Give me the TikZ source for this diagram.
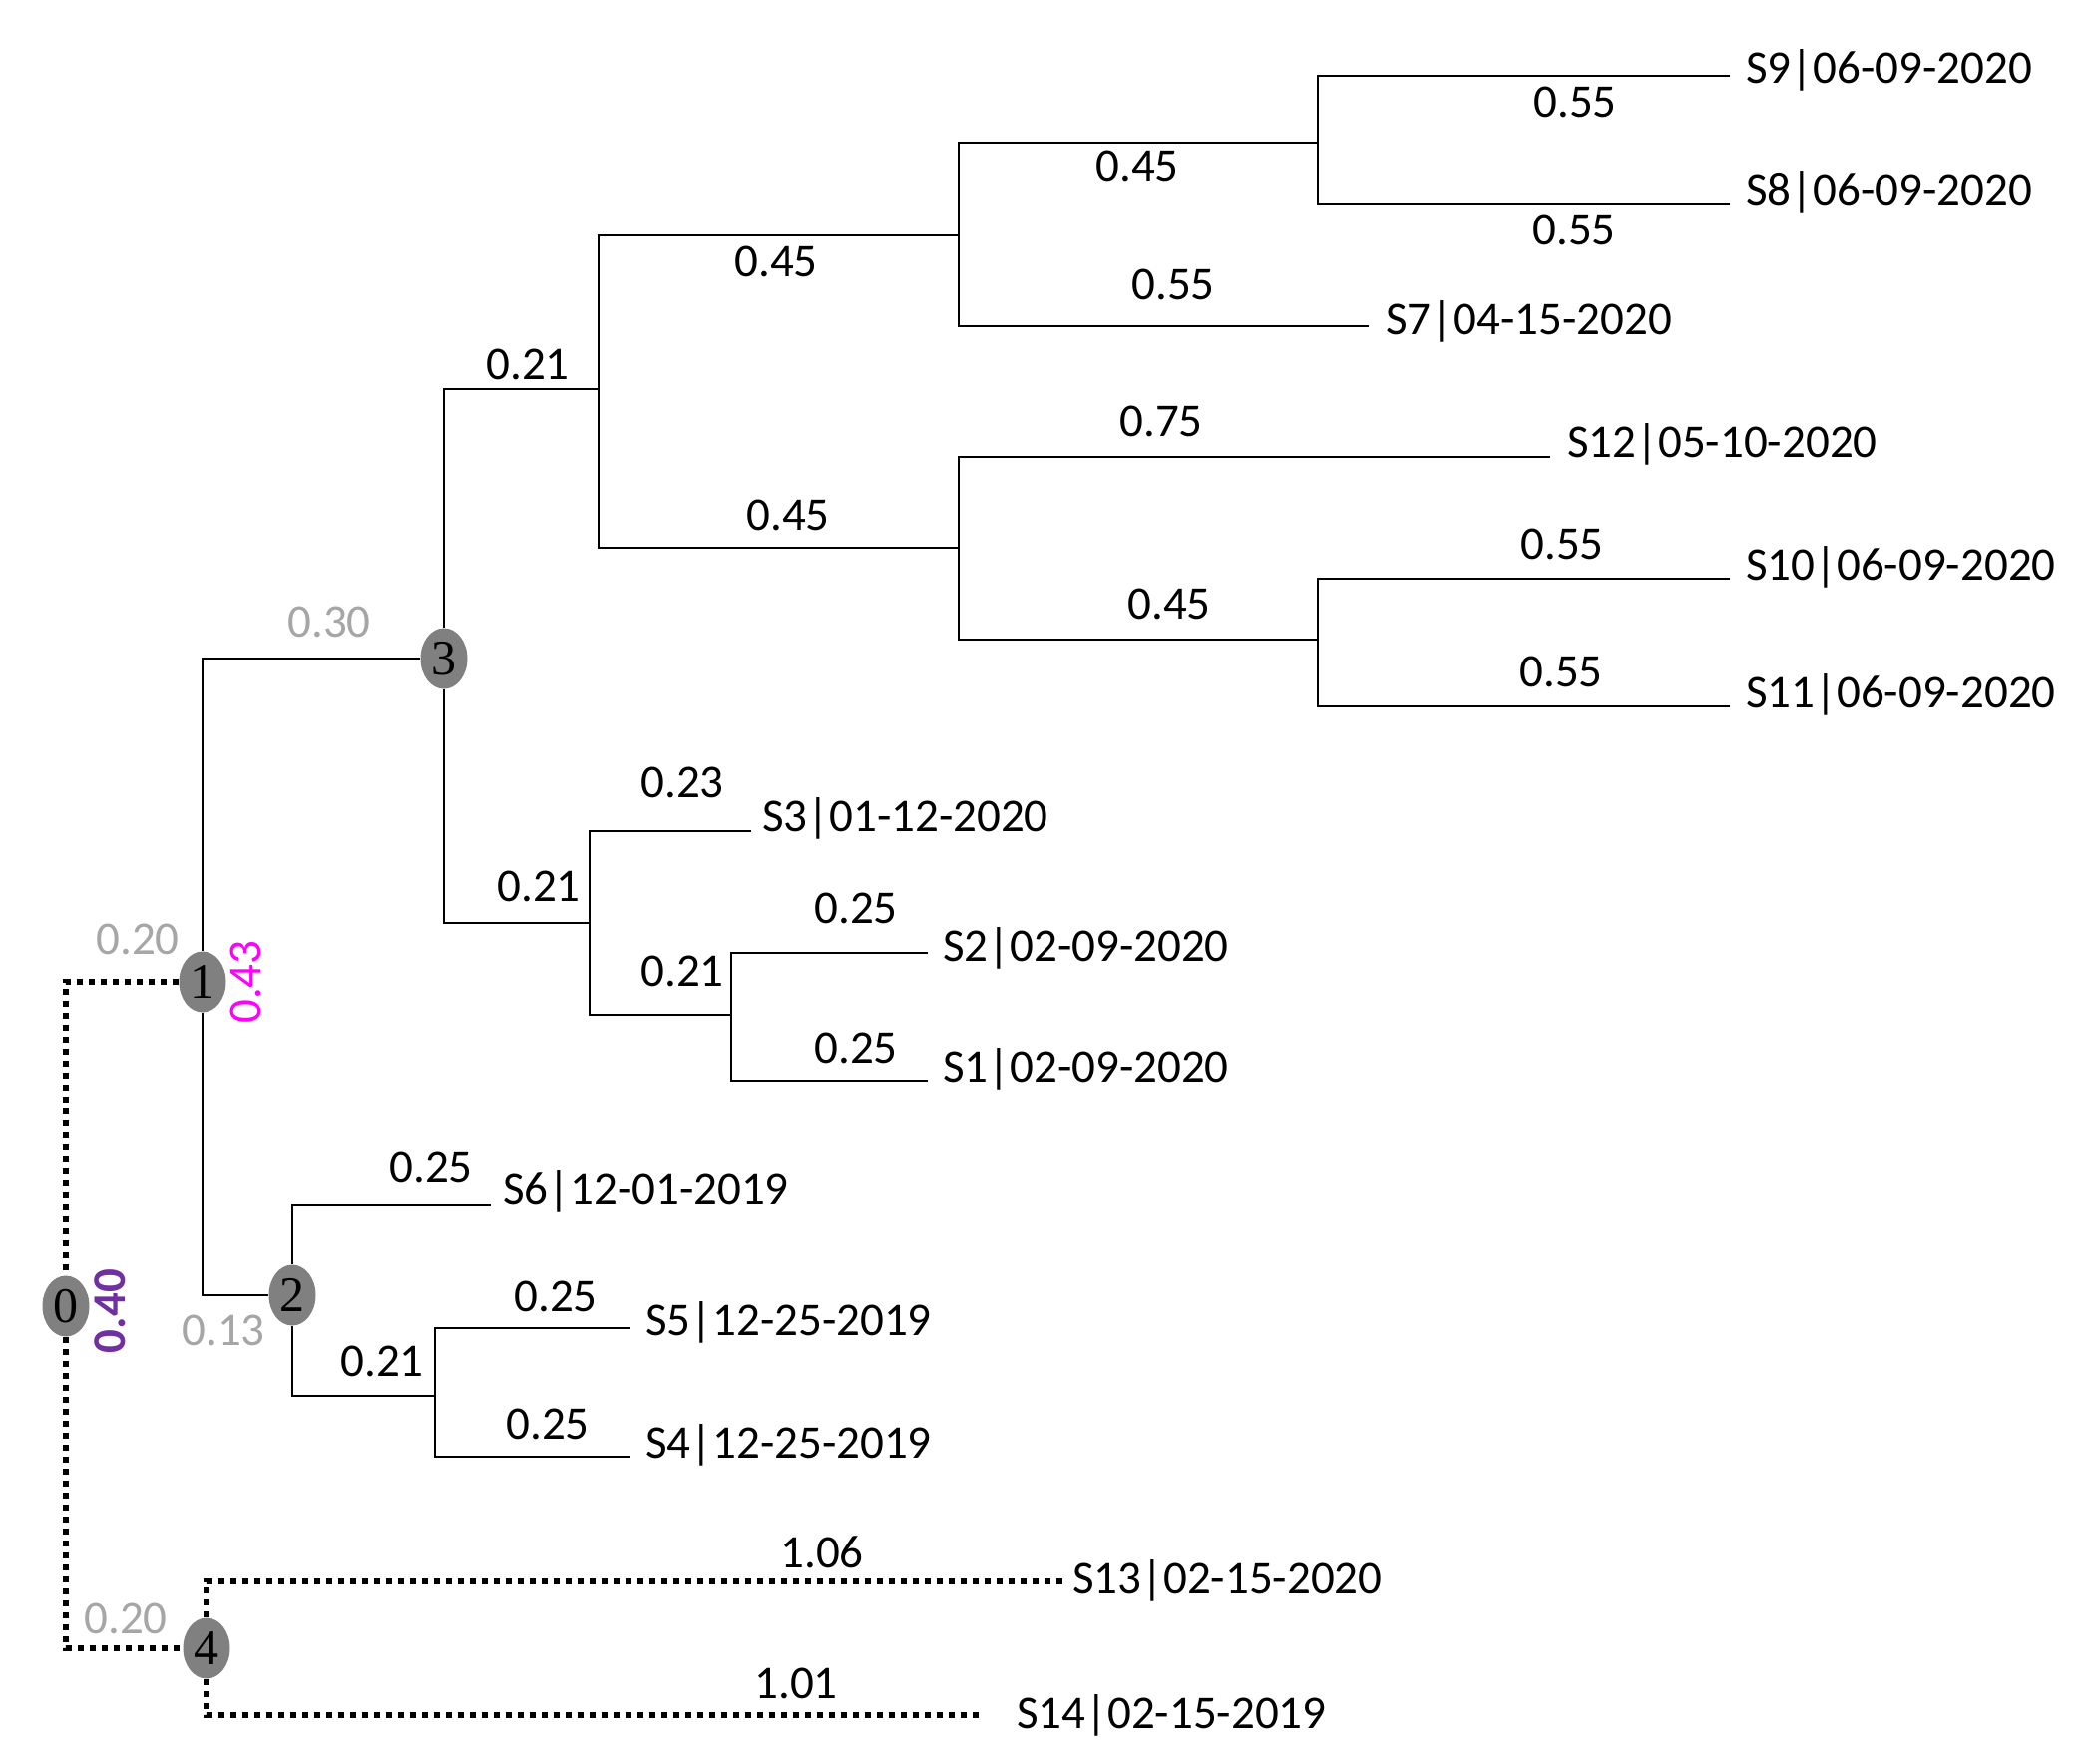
\documentclass[tikz,border=0pt]{standalone}
\usepackage{fontspec}
\setmainfont{Carlito}
\newfontfamily\numfont{Liberation Serif}
\usetikzlibrary{shapes.geometric}
\definecolor{nodegray}{RGB}{128,128,128}
\definecolor{lgray}{RGB}{166,166,166}
\definecolor{mag}{RGB}{255,0,255}
\definecolor{purp}{RGB}{112,48,160}
\begin{document}
\begin{tikzpicture}[x=0.5pt,y=-0.5pt,
  br/.style={line width=0.65pt,black},
  dotline/.style={line width=3.2pt,dash pattern=on 3pt off 3pt,black},
  inode/.style={ellipse,fill=nodegray,minimum width=23.5pt,minimum height=30.5pt,inner sep=0pt,font=\numfont\fontsize{25}{25}\selectfont},
  leaf/.style={anchor=base west,inner sep=0pt,font=\fontsize{23.5}{28}\selectfont},
  bl/.style={inner sep=0pt,font=\fontsize{23.5}{28}\selectfont},
  gl/.style={bl,text=lgray}]
\useasboundingbox (0,0) rectangle (2095,1768);
% internal nodes
\node[inode] (n0) at (66,1309) {0};
\node[inode] (n1) at (203,984) {1};
\node[inode] (n2) at (293,1298) {2};
\node[inode] (n3) at (445,660) {3};
\node[inode] (n4) at (207,1652) {4};
% branch points
\coordinate (a) at (600,390);
\coordinate (b) at (961,236);
\coordinate (c) at (1321,143);
\coordinate (d) at (961,549);
\coordinate (e) at (1321,641);
\coordinate (f) at (591,925);
\coordinate (g) at (733,1017);
\coordinate (h) at (436,1399);
% leaf ends
\coordinate (e9) at (1734,76);
\coordinate (e8) at (1734,204);
\coordinate (e7) at (1372,327);
\coordinate (e12) at (1554,458);
\coordinate (e10) at (1734,580);
\coordinate (e11) at (1734,708);
\coordinate (e3) at (753,833);
\coordinate (e2) at (930,955);
\coordinate (e1) at (930,1083);
\coordinate (e6) at (492,1208);
\coordinate (e5) at (632,1331);
\coordinate (e4) at (632,1460);
\coordinate (e13) at (1069,1585);
\coordinate (e14) at (982,1719);
% leaf labels
\node[leaf] (s9) at (1750,83) {S9|06-09-2020};
\node[leaf] (s8) at (1750,205) {S8|06-09-2020};
\node[leaf] (s7) at (1389,335) {S7|04-15-2020};
\node[leaf] (s12) at (1571,458) {S12|05-10-2020};
\node[leaf] (s10) at (1750,581) {S10|06-09-2020};
\node[leaf] (s11) at (1750,709) {S11|06-09-2020};
\node[leaf] (s3) at (764,833) {S3|01-12-2020};
\node[leaf] (s2) at (945,963) {S2|02-09-2020};
\node[leaf] (s1) at (945,1084) {S1|02-09-2020};
\node[leaf] (s6) at (504,1207) {S6|12-01-2019};
\node[leaf] (s5) at (647,1338) {S5|12-25-2019};
\node[leaf] (s4) at (647,1461) {S4|12-25-2019};
\node[leaf] (s13) at (1075,1597) {S13|02-15-2020};
\node[leaf] (s14) at (1019,1732) {S14|02-15-2019};
% solid branches
\draw[br] (n1) |- (n3);
\draw[br] (n1) |- (n2);
\draw[br] (n3) |- (a);
\draw[br] (a) |- (b);
\draw[br] (b) |- (c);
\draw[br] (c) |- (e9);
\draw[br] (c) |- (e8);
\draw[br] (b) |- (e7);
\draw[br] (a) |- (d);
\draw[br] (d) |- (e12);
\draw[br] (d) |- (e);
\draw[br] (e) |- (e10);
\draw[br] (e) |- (e11);
\draw[br] (n3) |- (f);
\draw[br] (f) |- (e3);
\draw[br] (f) |- (g);
\draw[br] (g) |- (e2);
\draw[br] (g) |- (e1);
\draw[br] (n2) |- (e6);
\draw[br] (n2) |- (h);
\draw[br] (h) |- (e5);
\draw[br] (h) |- (e4);
% dotted branches
\draw[dotline] (n1) -| (n0);
\draw[dotline] (n0) |- (n4);
\draw[dotline] (n4) |- (e13);
\draw[dotline] (n4) |- (e14);
% branch labels
\node[bl] at (1579,102) {0.55};
\node[bl] at (1578,230) {0.55};
\node[bl] at (1140,166) {0.45};
\node[bl] at (778,262) {0.45};
\node[bl] at (1176,285) {0.55};
\node[bl] at (529,365) {0.21};
\node[bl] at (1164,422) {0.75};
\node[bl] at (790,516) {0.45};
\node[bl] at (1566,545) {0.55};
\node[bl] at (1172,605) {0.45};
\node[bl] at (1565,673) {0.55};
\node[gl] at (330,623) {0.30};
\node[bl] at (684,784) {0.23};
\node[bl] at (540,888) {0.21};
\node[bl] at (858,910) {0.25};
\node[bl] at (684,973) {0.21};
\node[bl] at (858,1050) {0.25};
\node[gl] at (138,941) {0.20};
\node[bl,text=mag,rotate=90] at (246,984) {0.43};
\node[bl] at (432,1170) {0.25};
\node[bl,text=purp,rotate=90,font=\fontsize{23.5}{28}\selectfont\bfseries] at (110,1314) {0.40};
\node[gl] at (224,1333) {0.13};
\node[bl] at (557,1299) {0.25};
\node[bl] at (383,1364) {0.21};
\node[bl] at (549,1427) {0.25};
\node[bl] at (824,1556) {1.06};
\node[gl] at (126,1622) {0.20};
\node[bl] at (798,1687) {1.01};
\end{tikzpicture}
\end{document}
